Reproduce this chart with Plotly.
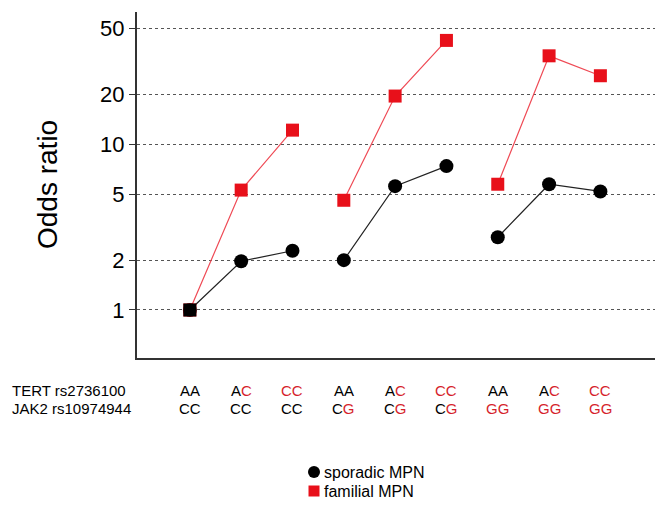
import plotly.graph_objects as go

categories = list(range(9))
tert = ["AA", "AC", "CC", "AA", "AC", "CC", "AA", "AC", "CC"]
jak2 = ["CC", "CC", "CC", "CG", "CG", "CG", "GG", "GG", "GG"]
sporadic = [1.0, 1.97, 2.28, 2.0, 5.6, 7.4, 2.75, 5.75, 5.2]
familial = [1.0, 5.3, 12.2, 4.6, 19.6, 42.5, 5.75, 34.3, 26.0]
yticks = [1, 2, 5, 10, 20, 50]
legend_names = ["sporadic MPN", "familial MPN"]

RED = "#e8101a"
TXT_RED = "#d61f2c"
FONT = "Liberation Sans, Arial, sans-serif"

W, H = 655, 504          # page has an 8px body margin
PL, PR, PT, PB = 129, 655, 4, 350   # plot area in figure pixels


def px(xf):
    return xf / W


def py(yf):
    return 1 - yf / H


def gapped(vals):
    xs, ys = [], []
    for g in range(3):
        for i in range(3):
            xs.append(categories[g * 3 + i])
            ys.append(vals[g * 3 + i])
        xs.append(None)
        ys.append(None)
    return xs, ys


fig = go.Figure()
xs, ys = gapped(familial)
fig.add_trace(go.Scatter(x=xs, y=ys, mode="lines", line=dict(color="#ef4a55", width=1.2),
                         showlegend=False, hoverinfo="skip"))
xs, ys = gapped(sporadic)
fig.add_trace(go.Scatter(x=xs, y=ys, mode="lines+markers", line=dict(color="#222", width=1.2),
                         marker=dict(symbol="circle", size=14, color="black"), showlegend=False))
fig.add_trace(go.Scatter(x=categories, y=familial, mode="markers",
                         marker=dict(symbol="square", size=13, color=RED), showlegend=False))
fig.add_trace(go.Scatter(x=[categories[0]], y=[familial[0]], mode="markers",
                         marker=dict(symbol="square", size=13, color="black"), showlegend=False))

# manual legend on an auxiliary axis (pixel-like coordinates)
LEG_X = 306
LEG_Y = [464, 483]
fig.add_trace(go.Scatter(x=[LEG_X], y=[LEG_Y[0]], xaxis="x2", yaxis="y2", mode="markers",
                         marker=dict(symbol="circle", size=12, color="black"),
                         showlegend=False, hoverinfo="skip"))
fig.add_trace(go.Scatter(x=[LEG_X], y=[LEG_Y[1]], xaxis="x2", yaxis="y2", mode="markers",
                         marker=dict(symbol="square", size=11, color=RED),
                         showlegend=False, hoverinfo="skip"))


def colored(geno, risk):
    out = ""
    for ch in geno:
        if ch == risk:
            out += f"<span style='color:{TXT_RED}'>{ch}</span>"
        else:
            out += ch
    return out


ROW1, ROW2 = 382, 400
anns = []
anns.append(dict(text="TERT rs2736100", x=px(2), y=py(ROW1), xref="paper", yref="paper",
                 xanchor="left", yanchor="middle", showarrow=False, font=dict(size=15, color="black", family=FONT)))
anns.append(dict(text="JAK2 rs10974944", x=px(2), y=py(ROW2), xref="paper", yref="paper",
                 xanchor="left", yanchor="middle", showarrow=False, font=dict(size=15, color="black", family=FONT)))
for c, t, j in zip(categories, tert, jak2):
    anns.append(dict(text=colored(t, "C"), x=c, y=py(ROW1), xref="x", yref="paper",
                     xanchor="center", yanchor="middle", showarrow=False,
                     font=dict(size=15, color="black", family=FONT)))
    anns.append(dict(text=colored(j, "G"), x=c, y=py(ROW2), xref="x", yref="paper",
                     xanchor="center", yanchor="middle", showarrow=False,
                     font=dict(size=15, color="black", family=FONT)))
for name, ly in zip(legend_names, LEG_Y):
    anns.append(dict(text=name, x=LEG_X + 9, y=ly, xref="x2", yref="y2",
                     xanchor="left", yanchor="middle", showarrow=False, borderpad=0,
                     font=dict(size=16, color="black", family=FONT)))
# y-axis title
anns.append(dict(text="Odds ratio", x=px(39), y=py((PT + PB) / 2), xref="paper", yref="paper",
                 xanchor="center", yanchor="middle", textangle=-90, showarrow=False,
                 font=dict(size=28, color="black", family=FONT)))

fig.update_layout(
    width=W, height=H,
    margin=dict(l=0, r=0, t=0, b=0, autoexpand=False),
    paper_bgcolor="white", plot_bgcolor="white",
    font=dict(family=FONT, color="black"),
    annotations=anns,
    showlegend=False,
    xaxis=dict(domain=[px(PL), px(PR)], range=[-1.03, 9.22], showgrid=False, zeroline=False,
               showticklabels=False, ticks="", showline=True, linecolor="#333", linewidth=2,
               anchor="y"),
    yaxis=dict(domain=[py(PB), py(PT)], type="log", range=[-0.29, 1.80], tickvals=yticks,
               ticktext=[str(v) for v in yticks], automargin=False,
               showgrid=True, gridcolor="#555", griddash="dot", gridwidth=1,
               showline=True, linecolor="#333", linewidth=2, ticks="outside", ticklen=6,
               tickcolor="#333", tickfont=dict(size=22, family=FONT), zeroline=False,
               anchor="x"),
    xaxis2=dict(domain=[0, 1], range=[0, W], visible=False, anchor="y2", fixedrange=True),
    yaxis2=dict(domain=[0, py(PB + 60)], range=[H, PB + 60], visible=False, anchor="x2",
                fixedrange=True),
)

fig.write_html("out.html")
